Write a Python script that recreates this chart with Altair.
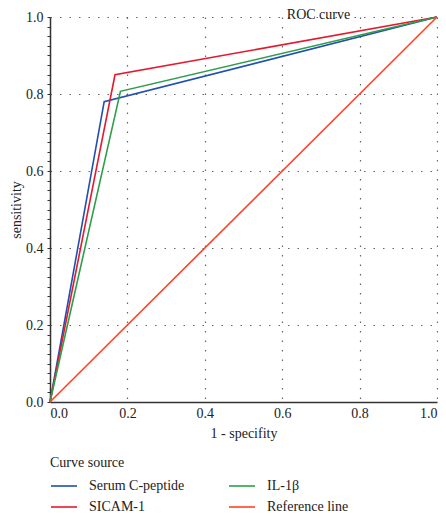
import altair as alt
import pandas as pd

series = ["Serum C-peptide", "SICAM-1", "IL-1\u03b2", "Reference line"]
colors = ["#1f4fb3", "#e5192e", "#2f9e4a", "#ff4422"]
fpr = {
    "Serum C-peptide": [0.0, 0.14, 1.0],
    "SICAM-1": [0.0, 0.168, 1.0],
    "IL-1\u03b2": [0.0, 0.182, 1.0],
    "Reference line": [0.0, 1.0],
}
tpr = {
    "Serum C-peptide": [0.0, 0.78, 1.0],
    "SICAM-1": [0.0, 0.85, 1.0],
    "IL-1\u03b2": [0.0, 0.807, 1.0],
    "Reference line": [0.0, 1.0],
}
major_ticks = [0, 0.2, 0.4, 0.6, 0.8, 1.0]
y_ticks = [i / 40 for i in range(41)]

rows = []
for s in series:
    for i, (x, y) in enumerate(zip(fpr[s], tpr[s])):
        rows.append({"series": s, "x": x, "y": y, "order": i})
df = pd.DataFrame(rows)

FONT = "Liberation Serif"
is_major = "abs(datum.value*5 - round(datum.value*5)) < 0.001"

chart = alt.Chart(df).mark_line(strokeWidth=1.6).encode(
    x=alt.X("x:Q", title="1 - specifity",
            scale=alt.Scale(domain=[0, 1], nice=False),
            axis=alt.Axis(values=major_ticks, format=".1f",
                          ticks=False, labelPadding=4, titlePadding=6)),
    y=alt.Y("y:Q", title="sensitivity",
            scale=alt.Scale(domain=[0, 1], nice=False),
            axis=alt.Axis(values=y_ticks, format=".1f",
                          labelExpr=f"({is_major}) ? datum.label : ''",
                          gridOpacity={"condition": {"test": is_major, "value": 1}, "value": 0},
                          ticks=True, tickSize=3, tickColor="#333", tickWidth=1,
                          labelPadding=4, titlePadding=2, labelOverlap=False)),
    color=alt.Color("series:N", scale=alt.Scale(domain=series, range=colors),
                    legend=alt.Legend(title="Curve source", orient="none",
                                      legendX=0, legendY=439, columns=2,
                                      symbolType="stroke", symbolSize=676,
                                      symbolStrokeWidth=1.6, columnPadding=40,
                                      rowPadding=-9, labelOffset=11,
                                      titlePadding=2)),
    detail="series:N",
    order="order:Q",
).properties(
    width=387, height=385,
    title=alt.TitleParams(text="ROC curve", anchor="middle", dx=75, offset=-12,
                          font=FONT, fontSize=14, fontWeight="normal", color="#222"),
    autosize=alt.AutoSizeParams(type="none"),
    padding={"left": 42, "top": 9, "right": 1, "bottom": 111},
).configure_axis(
    labelFont=FONT, titleFont=FONT, labelFontSize=14, titleFontSize=14,
    labelColor="#222", titleColor="#222", titleFontWeight="normal",
    domainColor="#333", domainWidth=1.5,
    gridColor="#666", gridDash=[1.5, 8], gridWidth=1.2,
).configure_legend(
    labelFont=FONT, titleFont=FONT, labelFontSize=14, titleFontSize=14,
    labelColor="#222", titleColor="#222", titleFontWeight="normal",
).configure_view(stroke=None)

chart.save("out.html", embed_options={"renderer": "svg", "actions": False})
